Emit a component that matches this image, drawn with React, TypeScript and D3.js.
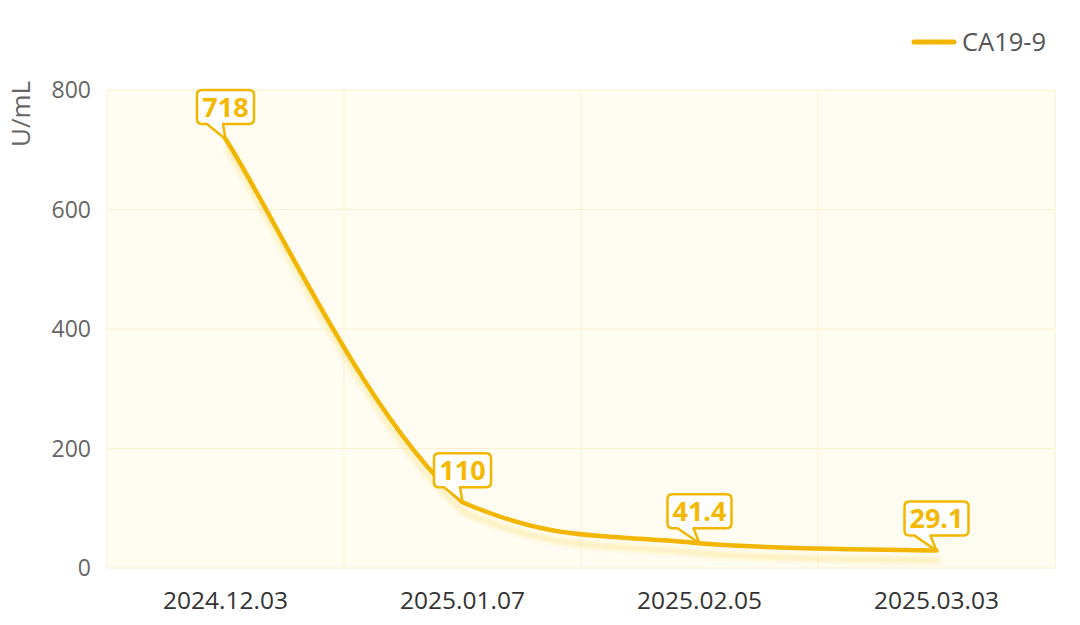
import React from "react";
import * as d3 from "d3";

const categories = ["2024.12.03", "2025.01.07", "2025.02.05", "2025.03.03"];
const values = [718, 110, 41.4, 29.1];
const labels = ["718", "110", "41.4", "29.1"];
const yTicks = [0, 200, 400, 600, 800];
const seriesName = "CA19-9";
const unit = "U/mL";

const W = 1080, H = 625;
const M = { left: 107, right: 1055, top: 90, bottom: 568 };
const LINE = "#F2B600";
const FONT = "'Open Sans', 'Noto Sans', sans-serif";

// Catmull-Rom style smoothing (factor 0.2) with control points clamped to each segment's range
function smoothPath(pts: [number, number][], a = 0.2): string {
  const p = d3.path();
  const n = pts.length;
  const clamp = (v: number, lo: number, hi: number) => Math.max(Math.min(v, Math.max(lo, hi)), Math.min(lo, hi));
  p.moveTo(pts[0][0], pts[0][1]);
  for (let i = 0; i < n - 1; i++) {
    const p0 = pts[i], p1 = pts[i + 1];
    const prev = i > 0 ? pts[i - 1] : p0;
    const next = i < n - 2 ? pts[i + 2] : p1;
    let ax = p0[0] + (p1[0] - prev[0]) * a;
    let ay = p0[1] + (p1[1] - prev[1]) * a;
    let bx = p1[0] - (next[0] - p0[0]) * a;
    let by = p1[1] - (next[1] - p0[1]) * a;
    ax = clamp(ax, p0[0], p1[0]); ay = clamp(ay, p0[1], p1[1]);
    bx = clamp(bx, p0[0], p1[0]); by = clamp(by, p0[1], p1[1]);
    p.bezierCurveTo(ax, ay, bx, by, p1[0], p1[1]);
  }
  return p.toString();
}

export default function App() {
  const x = d3.scaleBand().domain(categories).range([M.left, M.right]);
  const y = d3.scaleLinear().domain([0, 800]).range([M.bottom, M.top]);
  const cx = (c: string) => (x(c) as number) + x.bandwidth() / 2;
  const pts: [number, number][] = categories.map((c, i) => [cx(c), y(values[i])]);
  const line = smoothPath(pts);
  const vGrid = [...categories.map((c) => x(c) as number), M.right];

  return (
    <svg width={W} height={H} style={{ position: "absolute", left: 0, top: 0, background: "#fff" }} fontFamily={FONT}>
      <defs>
        <filter id="sh" x="-10%" y="-10%" width="120%" height="140%">
          <feDropShadow dx="2" dy="10" stdDeviation="2.5" floodColor="#F2C200" floodOpacity="0.3" />
        </filter>
      </defs>
      <rect x={M.left} y={M.top} width={M.right - M.left} height={M.bottom - M.top} fill="#FFFCF1" />
      {yTicks.map((t) => (
        <line key={"h" + t} x1={M.left} x2={M.right} y1={y(t)} y2={y(t)} stroke="#FCF0D2" strokeWidth={1} />
      ))}
      {vGrid.map((gx, i) => (
        <line key={"v" + i} x1={gx} x2={gx} y1={M.top} y2={M.bottom} stroke="#FCF0D2" strokeWidth={1} />
      ))}
      {yTicks.map((t) => (
        <text key={"yt" + t} x={91} y={y(t)} dy="0.35em" textAnchor="end" fontSize={23} fill="#666">{t}</text>
      ))}
      <text transform={`translate(30,114) rotate(-90)`} textAnchor="middle" fontSize={26} fill="#666">{unit}</text>
      {categories.map((c) => (
        <text key={c} x={cx(c)} y={600} dy="0.35em" textAnchor="middle" fontSize={24.5} fill="#333">{c}</text>
      ))}
      <path d={line} fill="none" stroke={LINE} strokeWidth={4.5} strokeLinecap="round" filter="url(#sh)" />
      {pts.map(([px, py], i) => {
        const w = labels[i].length > 3 ? 64 : 57;
        const h = 34;
        const bx = px - w / 2;
        const by = py - 15 - h;
        const r = 5;
        const t1 = bx + 10, t2 = bx + 26;
        const d = `M${bx + r},${by} H${bx + w - r} Q${bx + w},${by} ${bx + w},${by + r} V${by + h - r} Q${bx + w},${by + h} ${bx + w - r},${by + h} H${t2} L${px},${py} L${t1},${by + h} H${bx + r} Q${bx},${by + h} ${bx},${by + h - r} V${by + r} Q${bx},${by} ${bx + r},${by} Z`;
        return (
          <g key={"lb" + i}>
            <path d={d} fill="#fff" stroke={LINE} strokeWidth={2.5} strokeLinejoin="round" />
            <text x={px} y={by + h / 2} dy="0.36em" textAnchor="middle" fontSize={27} fontWeight="bold" fill="#F5B800">{labels[i]}</text>
          </g>
        );
      })}
      <line x1={914} x2={954} y1={42} y2={42} stroke={LINE} strokeWidth={5} strokeLinecap="round" />
      <text x={962} y={42} dy="0.35em" fontSize={25.5} fill="#555">{seriesName}</text>
    </svg>
  );
}
